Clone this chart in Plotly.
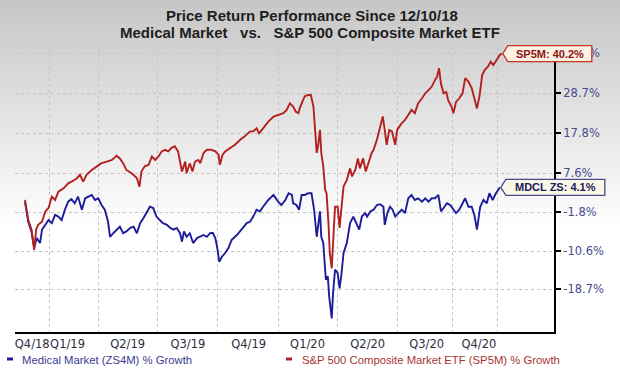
import math
import pandas as pd
import plotly.graph_objects as go

# ---------------- data ----------------
START_DATE = "2018-12-10"

# S&P 500 Composite Market ETF (SP5M) % growth since 12/10/18
sp5m_day_offsets = [
    0, 5, 10, 14, 17, 20, 26, 31, 36, 41,
    46, 51, 59, 66, 71, 79, 84, 89, 94, 102,
    110, 117, 125, 133, 140, 145, 150, 155, 163, 171,
    175, 178, 183, 189, 194, 199, 204, 209, 214, 219,
    224, 229, 234, 237, 240, 245, 247, 252, 256, 260,
    265, 268, 273, 278, 285, 291, 296, 298, 302, 306,
    314, 321, 329, 336, 344, 349, 354, 358, 364, 372,
    380, 387, 395, 400, 405, 410, 414, 418, 420, 425,
    428, 433, 437, 441, 443, 446, 448, 451, 453, 456,
    459, 461, 464, 466, 469, 471, 474, 478, 481, 484,
    487, 492, 497, 500, 505, 509, 512, 517, 521, 525,
    530, 533, 538, 543, 547, 550, 553, 557, 561, 566,
    569, 576, 581, 586, 591, 596, 601, 607, 612, 617,
    622, 627, 630, 633, 636, 640, 644, 647, 652, 655,
    659, 664, 669, 673, 678, 683, 688, 691, 695, 699,
    703, 708, 712, 716, 721, 726, 729,
]
sp5m_pct = [
    1.1, -3.6, -5.8, -10.3, -5.8, -4.7, -4.0, -1.6, -0.8, 1.9,
    1.1, 3.1, 3.9, 5.1, 5.5, 6.3, 7.2, 5.5, 7.2, 8.4,
    9.3, 10.1, 10.5, 10.9, 12.0, 11.3, 10.1, 8.4, 7.6, 6.4,
    4.3, 8.0, 9.3, 9.7, 11.8, 10.9, 11.8, 13.1, 13.5, 13.1,
    14.0, 14.4, 13.1, 10.9, 8.0, 10.5, 7.6, 10.1, 8.0, 10.5,
    10.9, 10.1, 12.7, 13.5, 13.5, 13.1, 12.2, 9.7, 12.2, 13.1,
    14.0, 14.8, 16.1, 17.0, 18.3, 18.3, 19.1, 17.8, 19.1, 20.9,
    22.3, 22.7, 23.2, 24.1, 25.9, 25.0, 23.6, 23.2, 24.5, 26.8,
    27.9, 28.2, 28.2, 25.0, 18.7, 12.7, 14.4, 18.7, 12.7, 9.3,
    3.5, 2.7, -4.3, -11.0, -14.3, -9.6, -0.5, -0.5, -5.4, -0.5,
    4.3, 5.9, 8.8, 6.8, 8.4, 11.3, 8.8, 11.3, 8.0, 10.1,
    12.7, 13.5, 16.1, 19.5, 22.3, 18.7, 14.8, 18.7, 18.3, 14.8,
    18.7, 20.5, 21.4, 22.7, 24.1, 23.2, 25.9, 27.3, 28.7, 29.6,
    30.6, 32.5, 33.4, 35.9, 31.4, 28.7, 29.1, 26.8, 25.0, 23.2,
    26.3, 27.3, 28.7, 33.0, 32.0, 30.1, 26.8, 24.5, 28.0, 33.9,
    35.4, 36.4, 37.8, 36.8, 38.3, 39.8, 40.2,
]

# Medical Market (ZS4M) % growth since 12/10/18
zs4m_day_offsets = [
    0, 5, 10, 14, 18, 23, 26, 31, 36, 41,
    46, 51, 56, 61, 66, 71, 76, 81, 87, 92,
    97, 102, 107, 112, 117, 122, 127, 130, 135, 140,
    145, 150, 155, 161, 166, 171, 176, 181, 186, 191,
    196, 201, 206, 211, 217, 222, 227, 232, 237, 240,
    243, 247, 252, 257, 263, 268, 273, 278, 283, 287,
    291, 294, 297, 301, 306, 311, 316, 324, 331, 339,
    344, 349, 354, 359, 364, 372, 380, 387, 392, 398,
    403, 408, 410, 415, 419, 423, 428, 433, 438, 442,
    446, 451, 453, 456, 460, 463, 465, 469, 471, 474,
    478, 481, 484, 487, 492, 497, 502, 507, 511, 515,
    520, 523, 528, 533, 538, 543, 548, 550, 554, 558,
    562, 566, 571, 576, 581, 586, 591, 596, 601, 607,
    612, 617, 622, 627, 632, 636, 640, 645, 650, 655,
    659, 664, 669, 673, 678, 683, 687, 691, 696, 701,
    706, 710, 715, 720, 726,
]
zs4m_pct = [
    0.6, -4.0, -6.3, -9.9, -7.7, -8.8, -5.8, -4.7, -3.6, -4.3,
    -2.4, -2.8, -3.6, -1.2, 0.7, 1.3, 0.3, 1.9, -1.2, 1.5,
    1.9, 2.3, 1.1, 1.5, -0.1, -1.2, -4.0, -7.4, -6.6, -5.8,
    -5.1, -6.6, -6.2, -5.4, -5.1, -6.6, -4.3, -3.2, -2.0, -0.5,
    -0.8, -2.8, -3.6, -4.3, -4.7, -5.4, -5.8, -5.4, -6.6, -8.5,
    -6.2, -7.4, -6.6, -8.8, -7.7, -7.4, -7.0, -7.4, -6.6, -6.5,
    -7.7, -9.9, -12.9, -11.8, -11.0, -9.9, -8.1, -7.0, -5.8, -4.3,
    -4.0, -2.8, -1.2, -1.6, -0.5, 1.1, 2.3, 0.7, -0.1, 1.1,
    2.7, 2.3, 0.3, -0.1, -1.2, 2.3, 2.3, 2.7, 2.7, -1.2,
    -7.4, -1.6, -7.4, -8.8, -16.7, -16.0, -20.1, -24.6, -19.5, -14.6,
    -15.3, -18.5, -15.3, -11.0, -8.8, -4.3, -2.8, -4.3, -5.8, -2.8,
    -2.0, -2.8, -1.6, -1.2, -0.1, 0.1, -0.5, -4.7, -2.0, -0.5,
    -1.2, -2.8, -2.0, -1.2, -2.0, 1.5, 2.3, 1.1, 1.5, 0.7,
    1.5, 0.7, 1.5, 1.5, 2.3, -1.6, -0.8, 0.3, -0.1, -1.2,
    -2.0, -1.2, 0.3, 1.5, -0.5, -0.5, -2.4, -5.8, -0.5, 1.1,
    0.3, 2.7, 1.1, 2.7, 4.1,
]

y_tick_pct = [40.3, 28.7, 17.8, 7.6, -1.8, -10.6, -18.7]
y_tick_text = ["40.3%", "28.7%", "17.8%", "7.6%", "-1.8%", "-10.6%", "-18.7%"]

x_tick_dates = ["2018-12-21", "2019-02-13", "2019-05-16", "2019-08-16", "2019-11-17",
                "2020-02-15", "2020-05-17", "2020-08-15", "2020-11-03"]
x_tick_text = ["Q4/18", "Q1/19", "Q2/19", "Q3/19", "Q4/19", "Q1/20", "Q2/20", "Q3/20", "Q4/20"]
x_grid_dates = ["2019-01-17", "2019-04-01", "2019-06-30", "2019-09-30", "2020-01-01",
                "2020-04-01", "2020-07-01", "2020-09-24", "2020-12-02"]

title_line1 = "Price Return Performance Since 12/10/18"
title_line2 = "Medical Market&nbsp;&nbsp; vs.&nbsp;&nbsp;&nbsp;S&P 500 Composite Market ETF"

# ---------------- styling ----------------
W, H = 620, 371
ML, MR, MT, MB = 15, 66, 48, 39
PW, PH = W - ML - MR, H - MT - MB
SCALE_OFFSET = 150  # compressive value scale of the source chart ~ log(150 + pct)

RED = "#b3201f"
BLUE = "#1d1d9b"
GRID = "#c4c4c4"

start = pd.Timestamp(START_DATE)
sp5m_dates = start + pd.to_timedelta(sp5m_day_offsets, unit="D")
zs4m_dates = start + pd.to_timedelta(zs4m_day_offsets, unit="D")

x0_date = start + pd.Timedelta(days=-15.3)
x1_date = start + pd.Timedelta(days=808.8)
x_range = [str(x0_date), str(x1_date)]
y_range = [2.08907, 2.28306]


def px_x(px):
    return (px - ML) / PW


def px_y(py):
    return (H - MB - py) / PH


def date_to_paper(d):
    return (d - x0_date) / (x1_date - x0_date)


def val_to_paper(v):
    return (math.log10(v + SCALE_OFFSET) - y_range[0]) / (y_range[1] - y_range[0])


fig = go.Figure()
fig.add_trace(go.Scatter(
    x=zs4m_dates, y=[v + SCALE_OFFSET for v in zs4m_pct], mode="lines",
    line=dict(color=BLUE, width=1.9), name="Medical Market (ZS4M) % Growth"))
fig.add_trace(go.Scatter(
    x=sp5m_dates, y=[v + SCALE_OFFSET for v in sp5m_pct], mode="lines",
    line=dict(color=RED, width=1.9), name="S&P 500 Composite Market ETF (SP5M) % Growth"))

shapes = []
# background vertical gradient
band = 8
for i in range(0, 240, band):
    g = int(round(min(255, 198 + 0.25 * (i + band / 2))))
    shapes.append(dict(type="rect", xref="paper", yref="paper",
                       x0=px_x(0), x1=px_x(W), y0=px_y(i + band + 0.5), y1=px_y(i),
                       fillcolor=f"rgb({g},{g},{g})", line=dict(width=0), layer="below"))

# callout tags at the end of each series
callouts = [
    (sp5m_dates[-1], sp5m_pct[-1], "SP5M", 90, "#c0392b", "#8b1515", "#fdf1e1"),
    (zs4m_dates[-1], zs4m_pct[-1], "MDCL ZS", 105, "#4a4a8a", "#1a1a5e", "#fbf7e6"),
]
annotations = []
for d, v, lab, wbox, border, tcol, fill in callouts:
    ax_p, ay_p = date_to_paper(d), val_to_paper(v)
    shapes.append(dict(type="path", xref="paper", yref="paper",
                       xsizemode="pixel", ysizemode="pixel",
                       xanchor=ax_p, yanchor=ay_p,
                       path=f"M1,0 L6,8 L{wbox},8 L{wbox},-8 L6,-8 Z",
                       fillcolor=fill, line=dict(color=border, width=1.3), layer="above"))
    annotations.append(dict(x=ax_p, y=ay_p, xref="paper", yref="paper",
                            text=f"<b>{lab}: {v:.1f}%</b>", showarrow=False,
                            xanchor="center", yanchor="middle",
                            xshift=(wbox + 6) / 2, yshift=0,
                            font=dict(family="Liberation Sans, Arial", size=11, color=tcol)))

# legend (short dashes + text)
legend_items = [
    (7, 20, BLUE, "#3a3a92", "Medical Market (ZS4M) % Growth"),
    (286, 300, RED, "#a93333", "S&P 500 Composite Market ETF (SP5M) % Growth"),
]
for dash_x, text_x, lc, tc, txt in legend_items:
    shapes.append(dict(type="line", xref="paper", yref="paper",
                       x0=px_x(dash_x), x1=px_x(dash_x + 6), y0=px_y(359), y1=px_y(359),
                       line=dict(color=lc, width=3)))
    annotations.append(dict(x=px_x(text_x), y=px_y(359.5), xref="paper", yref="paper",
                            text=txt, showarrow=False, xanchor="left", yanchor="middle",
                            font=dict(family="Liberation Sans, Arial", size=11.3, color=tc)))

# title lines
for txt, cy, cx in [(title_line1, 15, 312), (title_line2, 33, 310)]:
    annotations.append(dict(x=px_x(cx), y=px_y(cy), xref="paper", yref="paper",
                            text=f"<b>{txt}</b>", showarrow=False,
                            xanchor="center", yanchor="middle",
                            font=dict(family="Liberation Sans, Arial", size=15, color="#1e1e1e")))

fig.update_layout(
    width=W, height=H,
    margin=dict(l=ML, r=MR, t=MT, b=MB, pad=0),
    paper_bgcolor="white", plot_bgcolor="rgba(0,0,0,0)",
    showlegend=False,
    xaxis=dict(
        type="date", range=x_range, automargin=False,
        tickmode="array", tickvals=x_tick_dates, ticktext=x_tick_text, tickangle=0,
        ticks="", showgrid=False, zeroline=False,
        showline=True, linecolor="black", linewidth=2,
        tickfont=dict(family="DejaVu Sans", size=11.5, color="#2e2e3e"),
        minor=dict(tickmode="array", tickvals=x_grid_dates, showgrid=True,
                   gridcolor=GRID, griddash="dot", gridwidth=1, ticks=""),
    ),
    yaxis=dict(
        type="log", range=y_range, side="right", automargin=False,
        tickmode="array", tickvals=[v + SCALE_OFFSET for v in y_tick_pct], ticktext=y_tick_text,
        ticks="outside", ticklen=5, tickwidth=1.5, tickcolor="black",
        showgrid=True, gridcolor=GRID, griddash="dot", gridwidth=1,
        showline=True, linecolor="black", linewidth=2, zeroline=False,
        tickfont=dict(family="DejaVu Sans", size=11.5, color="#4a4a8c"),
    ),
    shapes=shapes,
    annotations=annotations,
)

fig.write_html("out.html", config={"displayModeBar": False},
               post_script="document.body.style.margin='0';")
